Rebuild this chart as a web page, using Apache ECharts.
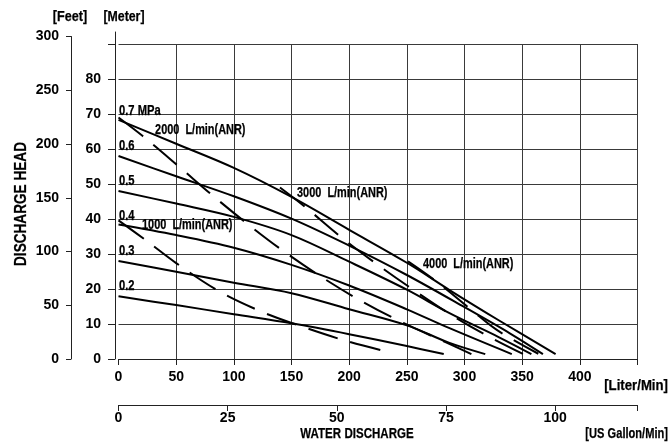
<!DOCTYPE html>
<html>
<head>
<meta charset="utf-8">
<script src="https://cdn.jsdelivr.net/npm/echarts@6/dist/echarts.min.js"></script>
<style>
html,body{margin:0;padding:0;background:#fff;}
#chart{width:672px;height:446px;}
</style>
</head>
<body>
<div id="chart"></div>
<script>
// ---------- data ----------
const literTicks = [0, 50, 100, 150, 200, 250, 300, 350, 400];
const gallonTicks = [0, 25, 50, 75, 100];
const meterTicks = [0, 10, 20, 30, 40, 50, 60, 70, 80];
const meterTickMarks = [0, 10, 20, 30, 40, 50, 60, 70, 80, 90];
const feetTicks = [0, 50, 100, 150, 200, 250, 300];

// pressure curves [L/min, m]
const p07 = [[0,68.3],[50,61.5],[100,54.6],[150,46.3],[200,36.9],[250,27.5],[287,19.7],[330,11],[379,1.4]];
const p06 = [[0,58],[50,52.2],[100,46.5],[150,40.1],[200,32.4],[250,24],[300,14.8],[340,7.2],[368,1.4]];
const p05 = [[0,48],[50,44.4],[100,40.6],[150,35.4],[200,27.8],[250,19.8],[287,13.1],[330,6.2],[358,1.4]];
const p04 = [[0,38.4],[50,35.4],[100,31.8],[150,26.9],[200,21],[250,14.2],[287,8.8],[341,1.4]];
const p03 = [[0,28],[50,24.9],[100,21.8],[150,18.8],[200,14.2],[250,9.6],[287,4.6],[318,1.4]];
const p02 = [[0,17.9],[50,15.4],[100,12.8],[150,10.2],[200,7.1],[250,3.7],[282,1.4]];

// air consumption curves [L/min, m]
const a1000 = [[0,39.6],[25,33.6],[50,27.4],[87,19.4],[122,13.8],[150,10.3],[198,5.1],[237,1.8]];
const a2000 = [[0,69],[21,63.7],[52,55.1],[82,46.6],[113,38.3],[144,30.6],[180,22.6],[212,16.3],[247,10.3],[283,4.9],[306,1.4]];
const a3000 = [[140,49],[162,43.4],[192,35.1],[224,27.1],[256,19.7],[290,12.3],[320,6.6],[351,1.4]];
const a4000 = [[251,27.9],[275,22.3],[305,14.3],[328,8.3],[364,1.5]];

const pressureNames = ['0.7 MPa', '0.6', '0.5', '0.4', '0.3', '0.2'];
const pressureLabelHead = [70, 60, 50, 40, 30, 20];
const airNames = ['1000  L/min(ANR)', '2000  L/min(ANR)', '3000  L/min(ANR)', '4000  L/min(ANR)'];
const airLabelFlow = [20.4, 31.7, 154.8, 264];
const airLabelHead = [38.3, 65.4, 47.4, 27.1];

const LITERS_PER_GALLON = 3.785411784;
const literMax = 450;
const meterMax = 90;
const feetMax = 300;

// ---------- layout ----------
const FONT = "'Liberation Sans', Arial, sans-serif";
const W = 672, H = 446;
const plot = {left: 118.5, right: 34.5, top: 44, bottom: 87};
const meterAxisTop = 32, feetAxisTop = 36.5;
const plotH = H - plot.top - plot.bottom;
const meterAxisMax = meterMax * (H - meterAxisTop - plot.bottom) / plotH;

const txt = {fontFamily: FONT, fontWeight: 'bold', color: '#000', fontSize: 14};
const lineCol = '#222';
const gridCol = '#3a3a3a';

const chart = echarts.init(document.getElementById('chart'), null, {renderer: 'canvas'});

const series = [];
[p07, p06, p05, p04, p03, p02].forEach(function (d) {
  series.push({type: 'line', xAxisIndex: 0, yAxisIndex: 0, data: d, smooth: 0.35,
    symbol: 'none', silent: true, lineStyle: {color: '#000', width: 2}});
});
[a1000, a2000, a3000, a4000].forEach(function (d) {
  series.push({type: 'line', xAxisIndex: 0, yAxisIndex: 0, data: d, smooth: 0.35,
    symbol: 'none', silent: true, lineStyle: {color: '#000', width: 2, type: [31, 13]}});
});

const option = {
  animation: false,
  backgroundColor: '#fff',
  grid: [
    {left: plot.left, right: plot.right, top: plot.top, bottom: plot.bottom},
    {left: 115, right: plot.right, top: meterAxisTop, bottom: plot.bottom},
    {left: 71, right: plot.right, top: feetAxisTop, bottom: plot.bottom}
  ],
  xAxis: [
    {gridIndex: 0, type: 'value', min: 0, max: literMax, interval: 50, position: 'bottom', offset: 6,
      axisLine: {show: true, lineStyle: {color: lineCol, width: 1}},
      axisTick: {show: true, length: 6, lineStyle: {color: lineCol}},
      axisLabel: Object.assign({customValues: literTicks, margin: 5}, txt),
      splitLine: {show: true, showMinLine: false, lineStyle: {color: gridCol, width: 1}}},
    {gridIndex: 0, type: 'value', min: 0, max: literMax / LITERS_PER_GALLON, interval: 25, position: 'bottom', offset: 46,
      axisLine: {show: true, lineStyle: {color: lineCol, width: 1}},
      axisTick: {show: true, length: 6, lineStyle: {color: lineCol}},
      axisLabel: Object.assign({customValues: gallonTicks, margin: 6}, txt),
      splitLine: {show: false}},
    {gridIndex: 1, type: 'value', min: 0, max: 1, show: false},
    {gridIndex: 2, type: 'value', min: 0, max: 1, show: false}
  ],
  yAxis: [
    {gridIndex: 0, type: 'value', min: 0, max: meterMax, interval: 10,
      axisLine: {show: false}, axisTick: {show: false}, axisLabel: {show: false},
      splitLine: {show: true, showMinLine: false, lineStyle: {color: gridCol, width: 1}}},
    {gridIndex: 1, type: 'value', min: 0, max: meterAxisMax, interval: 10,
      axisLine: {show: true, lineStyle: {color: lineCol, width: 1}},
      axisTick: {show: true, length: 7, customValues: meterTickMarks, lineStyle: {color: lineCol}},
      axisLabel: Object.assign({customValues: meterTicks, margin: 14}, txt),
      splitLine: {show: false}},
    {gridIndex: 2, type: 'value', min: 0, max: feetMax, interval: 50,
      axisLine: {show: true, lineStyle: {color: lineCol, width: 1}},
      axisTick: {show: true, length: 5, lineStyle: {color: lineCol}},
      axisLabel: Object.assign({customValues: feetTicks, margin: 12}, txt),
      splitLine: {show: false}}
  ],
  series: series
};
chart.setOption(option);

// ---------- text (titles and curve labels) ----------
function label(text, x, y, opts) {
  opts = opts || {};
  return {
    type: 'text', x: x, y: y, z: 10, silent: true,
    rotation: opts.rotation || 0,
    scaleX: opts.scaleX || 1,
    style: {text: text, align: opts.align || 'left', verticalAlign: 'middle', fill: '#000',
      stroke: '#000', lineWidth: 0.25,
      font: 'bold ' + (opts.size || 13) + 'px ' + FONT}
  };
}
const graphics = [
  label('[Feet]', 70, 17, {align: 'center', size: 15, scaleX: 0.84}),
  label('[Meter]', 124, 17, {align: 'center', size: 15, scaleX: 0.82}),
  label('DISCHARGE HEAD', 21, 204, {align: 'center', size: 17, scaleX: 0.8, rotation: Math.PI / 2}),
  label('[Liter/Min]', 668, 386, {align: 'right', size: 15, scaleX: 0.88}),
  label('WATER DISCHARGE', 357, 434, {align: 'center', size: 15, scaleX: 0.77}),
  label('[US Gallon/Min]', 668, 434, {align: 'right', size: 15, scaleX: 0.74})
];
pressureNames.forEach(function (n, i) {
  const p = chart.convertToPixel({gridIndex: 0}, [0, pressureLabelHead[i]]);
  graphics.push(label(n, p[0] + 0.5, p[1] - 3, {size: 14, scaleX: 0.8}));
});
airNames.forEach(function (n, i) {
  const p = chart.convertToPixel({gridIndex: 0}, [airLabelFlow[i], airLabelHead[i]]);
  graphics.push(label(n, p[0], p[1], {size: 14, scaleX: 0.78}));
});
chart.setOption({graphic: graphics});
</script>
</body>
</html>
